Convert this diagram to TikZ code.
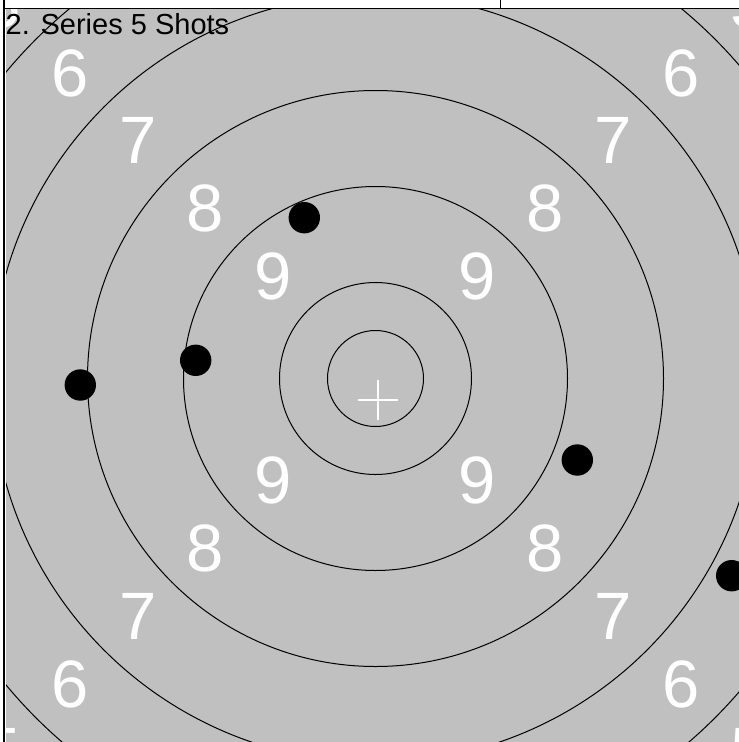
\documentclass[tikz,border=0pt]{standalone}
\usepackage{fontspec}
\setmainfont{Liberation Sans}
\definecolor{bgray}{HTML}{C0C0C0}
\begin{document}
\begin{tikzpicture}[x=1pt,y=-1pt,
  ring/.style={draw=black,line width=1pt},
  shot/.style={circle,fill=black,minimum size=31.4pt,inner sep=0pt},
  score/.style={text=white,font=\fontsize{67}{67}\selectfont,inner sep=0pt},
  frameline/.style={draw=black,line width=1.2pt},
  crossline/.style={draw=white,line width=2pt}]
\useasboundingbox (0,0) rectangle (739,742);
\fill[white] (0,0) rectangle (739,742);
\fill[bgray] (6,9) rectangle (739,742);
\coordinate (c) at (375.5,378.5);
\begin{scope}
  \clip (6,9) rectangle (739,742);
  \foreach \r in {48,96,192,288,384,480}
    \draw[ring] (c) circle[radius=\r];
  \foreach \d/\t in {102/9,170/8,237.6/7,305.5/6,373.4/5} {
    \node[score] (tl\t) at ([shift={(-\d,-\d)}]c) {\t};
    \node[score] (tr\t) at ([shift={(\d,-\d)}]c) {\t};
    \node[score] (bl\t) at ([shift={(-\d,\d)}]c) {\t};
    \node[score] (br\t) at ([shift={(\d,\d)}]c) {\t};
  }
  \coordinate (cx) at (378,399.5);
  \draw[crossline] ([xshift=-20pt]cx) -- ([xshift=20pt]cx);
  \draw[crossline] ([yshift=-20pt]cx) -- ([yshift=20pt]cx);
  \node[shot] (s1) at (304.3,217.7) {};
  \node[shot] (s2) at (80.3,385) {};
  \node[shot] (s3) at (195.7,360.3) {};
  \node[shot] (s4) at (577.3,460) {};
  \node[shot] (s5) at (731.7,575.7) {};
\end{scope}
\draw[frameline] (4,0) -- (4,742);
\draw[draw=black,line width=1pt] (4,8) -- (739,8);
\draw[draw=black,line width=1pt] (500,0) -- (500,8);
\node[anchor=base west,inner sep=0pt,font=\fontsize{29}{29}\selectfont] (title) at (5.5,34) {2. Series 5 Shots};
\end{tikzpicture}
\end{document}
